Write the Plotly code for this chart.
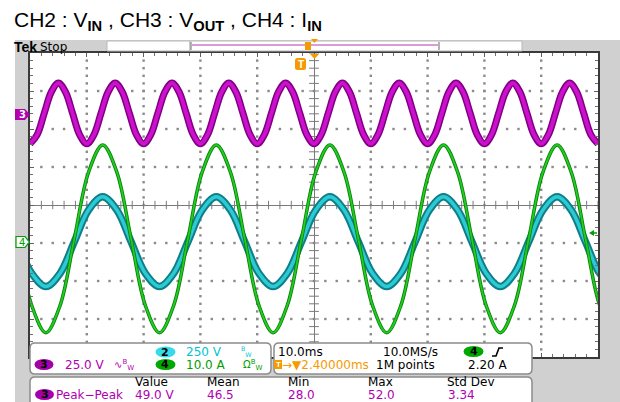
import plotly.graph_objects as go

W, H = 620, 402

# ---------------- data ----------------
# CH3 : V_OUT ripple, volts relative to the CH3 reference marker
t_ch3_ms = [-50.0, -48.75, -47.5, -46.25, -45.0, -43.75, -42.5, -41.25, -40.0, -38.75,
            -37.5, -36.25, -35.0, -33.75, -32.5, -31.25, -30.0, -28.75, -27.5, -26.25,
            -25.0, -23.75, -22.5, -21.25, -20.0, -18.75, -17.5, -16.25, -15.0, -13.75,
            -12.5, -11.25, -10.0, -8.75, -7.5, -6.25, -5.0, -3.75, -2.5, -1.25,
            0.0, 1.25, 2.5, 3.75, 5.0, 6.25, 7.5, 8.75, 10.0, 11.25,
            12.5, 13.75, 15.0, 16.25, 17.5, 18.75, 20.0, 21.25, 22.5, 23.75,
            25.0, 26.25, 27.5, 28.75, 30.0, 31.25, 32.5, 33.75, 35.0, 36.25,
            37.5, 38.75, 40.0, 41.25, 42.5, 43.75, 45.0, 46.25, 47.5, 48.75, 50.0]
v_out_V = [-19.0, -13.1, 1.0, 15.1, 21.0, 15.1, 1.0, -13.1,
           -19.0, -13.1, 1.0, 15.1, 21.0, 15.1, 1.0, -13.1,
           -19.0, -13.1, 1.0, 15.1, 21.0, 15.1, 1.0, -13.1,
           -19.0, -13.1, 1.0, 15.1, 21.0, 15.1, 1.0, -13.1,
           -19.0, -13.1, 1.0, 15.1, 21.0, 15.1, 1.0, -13.1,
           -19.0, -13.1, 1.0, 15.1, 21.0, 15.1, 1.0, -13.1,
           -19.0, -13.1, 1.0, 15.1, 21.0, 15.1, 1.0, -13.1,
           -19.0, -13.1, 1.0, 15.1, 21.0, 15.1, 1.0, -13.1,
           -19.0, -13.1, 1.0, 15.1, 21.0, 15.1, 1.0, -13.1,
           -19.0, -13.1, 1.0, 15.1, 21.0, 15.1, 1.0, -13.1,
           -19.0]

# CH2 : V_IN (volts) and CH4 : I_IN (amps)
t_in_ms = [-52.2, -49.7, -47.2, -44.7, -42.2, -39.7, -37.2, -34.7, -32.2, -29.7,
           -27.2, -24.7, -22.2, -19.7, -17.2, -14.7, -12.2, -9.7, -7.2, -4.7,
           -2.2, 0.3, 2.8, 5.3, 7.8, 10.3, 12.8, 15.3, 17.8, 20.3,
           22.8, 25.3, 27.8, 30.3, 32.8, 35.3, 37.8, 40.3, 42.8, 45.3,
           47.8, 50.3, 52.8]
v_in_V = [1, -207, -294, -207, 1, 209, 296, 209,
          1, -207, -294, -207, 1, 209, 296, 209,
          1, -207, -294, -207, 1, 209, 296, 209,
          1, -207, -294, -207, 1, 209, 296, 209,
          1, -207, -294, -207, 1, 209, 296, 209,
          1, -207, -294]
i_in_A = [0.8, -16.7, -23.9, -16.7, 0.8, 18.3, 25.5, 18.3,
          0.8, -16.7, -23.9, -16.7, 0.8, 18.3, 25.5, 18.3,
          0.8, -16.7, -23.9, -16.7, 0.8, 18.3, 25.5, 18.3,
          0.8, -16.7, -23.9, -16.7, 0.8, 18.3, 25.5, 18.3,
          0.8, -16.7, -23.9, -16.7, 0.8, 18.3, 25.5, 18.3,
          0.8, -16.7, -23.9]

# channel settings: (volts or amps per division, marker position in divisions from centre)
ch2_scale, ch2_pos = 250.0, -0.97
ch3_scale, ch3_pos = 25.0, 2.37
ch4_scale, ch4_pos = 10.0, -0.97
time_per_div = 10.0

# readout texts
title_html = "CH2 : V<sub><b>IN</b></sub> , CH3 : V<sub><b>OUT</b></sub> , CH4 : I<sub><b>IN</b></sub>"
ch2_readout = "250 V"
ch3_readout = "25.0 V"
ch4_readout = "10.0 A"
timebase = "10.0ms"
sample_rate = "10.0MS/s"
trig_delay = "→▼2.40000ms"
record_len = "1M points"
trig_level = "2.20 A"
meas_headers = ["Value", "Mean", "Min", "Max", "Std Dev"]
meas_name = "Peak−Peak"
meas_values = ["49.0 V", "46.5", "28.0", "52.0", "3.34"]

# ---------------- styling ----------------
SCOPE = "DejaVu Sans"
TITLE = "Liberation Sans, Arial"
PX0, PX1, PY0, PY1 = 30, 598, 53, 357   # plot area in pixels
MAG, CYA, GRN, ORG = "#b000b0", "#00c4d4", "#00a000", "#f59a00"


def P(x, y):
    return f"{x / W:.5f},{1 - y / H:.5f}"


def rrect(x0, y0, x1, y1, r):
    return (f"M {P(x0 + r, y0)} L {P(x1 - r, y0)} Q {P(x1, y0)} {P(x1, y0 + r)} "
            f"L {P(x1, y1 - r)} Q {P(x1, y1)} {P(x1 - r, y1)} L {P(x0 + r, y1)} "
            f"Q {P(x0, y1)} {P(x0, y1 - r)} L {P(x0, y0 + r)} Q {P(x0, y0)} {P(x0 + r, y0)} Z")


def yr(scale, pos):
    return [(-4 - pos) * scale, (4 - pos) * scale]


fig = go.Figure()

# graticule dots (every 1/5 division along each division line)
gx, gy = [], []
for k in range(-4, 5):
    if k == 0:
        continue
    for j in range(1, 40):
        gx.append(k * time_per_div)
        gy.append(-4 + 0.2 * j)
for k in range(-3, 4):
    if k == 0:
        continue
    for j in range(1, 50):
        gx.append(-5 * time_per_div + j * time_per_div / 5)
        gy.append(k)
fig.add_trace(go.Scatter(x=gx, y=gy, mode="markers",
                         marker=dict(symbol="square", size=2.4, color="#8a8a8a", line=dict(width=0)),
                         hoverinfo="skip", showlegend=False))

# centre-line tick marks
fig.add_trace(go.Scatter(x=[-50 + 2 * i for i in range(51)], y=[0] * 51, mode="markers",
                         marker=dict(symbol="line-ns", size=6, line=dict(width=1, color="#7a7a7a")),
                         hoverinfo="skip", showlegend=False))
fig.add_trace(go.Scatter(x=[0] * 41, y=[-4 + 0.2 * i for i in range(41)], mode="markers",
                         marker=dict(symbol="line-ew", size=7, line=dict(width=1, color="#7a7a7a")),
                         hoverinfo="skip", showlegend=False))

# CH2 cyan
fig.add_trace(go.Scatter(x=t_in_ms, y=v_in_V, yaxis="y2", mode="lines",
                         line=dict(color="#0e7f88", width=7.5, shape="spline", smoothing=1),
                         hoverinfo="skip", showlegend=False))
fig.add_trace(go.Scatter(x=t_in_ms, y=v_in_V, yaxis="y2", mode="lines",
                         line=dict(color="#2ccbd4", width=3.5, shape="spline", smoothing=1),
                         hoverinfo="skip", showlegend=False))
# CH3 magenta
fig.add_trace(go.Scatter(x=t_ch3_ms, y=v_out_V, yaxis="y3", mode="lines",
                         line=dict(color="#7e0082", width=7, shape="spline", smoothing=1),
                         hoverinfo="skip", showlegend=False))
fig.add_trace(go.Scatter(x=t_ch3_ms, y=v_out_V, yaxis="y3", mode="lines",
                         line=dict(color="#cc10cc", width=4, shape="spline", smoothing=1),
                         hoverinfo="skip", showlegend=False))
# CH4 green
fig.add_trace(go.Scatter(x=t_in_ms, y=i_in_A, yaxis="y4", mode="lines",
                         line=dict(color="#0a820a", width=3.5, shape="spline", smoothing=1),
                         hoverinfo="skip", showlegend=False))
fig.add_trace(go.Scatter(x=t_in_ms, y=i_in_A, yaxis="y4", mode="lines",
                         line=dict(color="#22cc22", width=1.8, shape="spline", smoothing=1),
                         hoverinfo="skip", showlegend=False))

dom_x = [PX0 / W, PX1 / W]
dom_y = [1 - PY1 / H, 1 - PY0 / H]

fig.update_layout(
    width=W, height=H, margin=dict(l=0, r=0, t=0, b=0),
    paper_bgcolor="white", plot_bgcolor="white", showlegend=False,
    xaxis=dict(domain=dom_x, range=[-5 * time_per_div, 5 * time_per_div], dtick=time_per_div, tick0=0,
               showgrid=False,
               zeroline=True, zerolinecolor="#7a7a7a", zerolinewidth=1,
               showline=True, linecolor="#3a3a3a", linewidth=2, mirror="ticks",
               ticks="inside", ticklen=4, tickcolor="#606060", showticklabels=False,
               minor=dict(dtick=time_per_div / 5, ticks="inside", ticklen=3, tickcolor="#707070", showgrid=False),
               fixedrange=True),
    yaxis=dict(domain=dom_y, range=[-4, 4], dtick=1, tick0=0,
               showgrid=False,
               zeroline=True, zerolinecolor="#7a7a7a", zerolinewidth=1,
               showline=True, linecolor="#3a3a3a", linewidth=2, mirror="ticks",
               ticks="inside", ticklen=4, tickcolor="#606060", showticklabels=False,
               minor=dict(dtick=0.2, ticks="inside", ticklen=3, tickcolor="#707070", showgrid=False),
               fixedrange=True),
    yaxis2=dict(overlaying="y", anchor="x", range=yr(ch2_scale, ch2_pos), visible=False),
    yaxis3=dict(overlaying="y", anchor="x", range=yr(ch3_scale, ch3_pos), visible=False),
    yaxis4=dict(overlaying="y", anchor="x", range=yr(ch4_scale, ch4_pos), visible=False),
)

shapes = []


def rect(x0, y0, x1, y1, fill, line=None, lw=0, layer="above"):
    shapes.append(dict(type="rect", xref="paper", yref="paper", x0=x0 / W, x1=x1 / W,
                       y0=1 - y1 / H, y1=1 - y0 / H, fillcolor=fill,
                       line=dict(color=line or fill, width=lw), layer=layer))


def path(d, fill=None, line=None, lw=1, layer="above"):
    s = dict(type="path", xref="paper", yref="paper", path=d, layer=layer,
             line=dict(color=line or "rgba(0,0,0,0)", width=lw if line else 0))
    if fill:
        s["fillcolor"] = fill
    shapes.append(s)


def ellipse(cx, cy, w, h, fill):
    shapes.append(dict(type="circle", xref="paper", yref="paper", x0=(cx - w / 2) / W, x1=(cx + w / 2) / W,
                       y0=1 - (cy + h / 2) / H, y1=1 - (cy - h / 2) / H, fillcolor=fill,
                       line=dict(width=0), layer="above"))


# scope background
rect(15, 40, W, H, "#d0d0d0", layer="below")
rect(PX0, PY0, PX1, PY1, "white", layer="below")
# top status bar
rect(107, 41, 190, 51, "white", "#b8b8b8", 1)
rect(190, 41, 522, 51, "white", "#b8b8b8", 1)
path(f"M {P(192, 45)} L {P(438, 45)}", line="#b040b0", lw=1.2)
path(f"M {P(191, 42)} L {P(191, 50)}", line="#999999", lw=1.5)
path(f"M {P(439, 42)} L {P(439, 50)}", line="#999999", lw=1.5)
rect(305, 42, 311, 50, ORG)
path(f"M {P(311, 39)} L {P(318, 39)} L {P(314.5, 43)} Z", fill=ORG)
# trigger position marker under the frame
path(f"M {P(310, 54)} L {P(319, 54)} L {P(314.5, 59)} Z", fill=ORG)
path(rrect(295, 58, 306, 70, 2.5), fill=ORG)
# channel markers on the left
path(f"M {P(15, 109)} L {P(25, 109)} L {P(30, 114.5)} L {P(25, 120)} L {P(15, 120)} Z", fill=MAG)
path(f"M {P(16, 236.5)} L {P(25, 236.5)} L {P(29.5, 242)} L {P(25, 247.5)} L {P(16, 247.5)} Z",
     fill="white", line=GRN, lw=1.2)
# trigger level arrow on the right
path(f"M {P(589, 233)} L {P(594, 230)} L {P(594, 236)} Z", fill=GRN)
path(f"M {P(593, 233)} L {P(597, 233)}", line=GRN, lw=1.5)
# readout boxes
path(rrect(30, 343, 271, 374, 5), fill="white", line="#8c8c8c", lw=1.5)
path(rrect(274, 343, 532, 374, 5), fill="white", line="#8c8c8c", lw=1.5)
path(rrect(30, 377, 532, 412, 5), fill="white", line="#8c8c8c", lw=1.5)
# pills
ellipse(165.5, 352, 20, 11, "#35dbe8")
ellipse(44, 364.5, 19, 11, "#a400a8")
ellipse(165.5, 364.5, 20, 11, "#00a800")
ellipse(473.5, 351.5, 20, 11, "#00a800")
ellipse(44.5, 394.5, 19, 11, "#a400a8")
# trigger slope symbol
path(f"M {P(492, 356)} L {P(496, 356)} L {P(499, 348)} L {P(503, 348)}", line="black", lw=1.6)
# orange T box in delay readout
rect(274, 360, 282, 369, ORG)

fig.update_layout(shapes=shapes)


def ann(x, y, s, color="black", size=12, xanchor="left", family=SCOPE):
    fig.add_annotation(x=x / W, y=1 - y / H, xref="paper", yref="paper", text=s, showarrow=False,
                       xanchor=xanchor, yanchor="middle", borderpad=0, borderwidth=0,
                       font=dict(family=family, size=size, color=color))


ann(14, 21, title_html, size=21, family=TITLE)
ann(14, 46.5, "<b>Tek</b>", size=14, family=TITLE)
ann(40, 46.5, "Stop", size=12)
ann(300.5, 64.5, "<b>T</b>", color="white", size=10, xanchor="center", family=TITLE)
ann(278, 364.5, "<b>T</b>", color="white", size=8, xanchor="center", family=TITLE)
ann(22, 114.5, "<b>3</b>", color="white", size=10, xanchor="center")
ann(22, 242, "4", color=GRN, size=10, xanchor="center")

ann(165.5, 352, "<b>2</b>", size=11, xanchor="center")
ann(44, 364.5, "<b>3</b>", size=11, xanchor="center")
ann(165.5, 364.5, "<b>4</b>", size=11, xanchor="center")
ann(473.5, 351.5, "<b>4</b>", size=11, xanchor="center")
ann(44.5, 394.5, "<b>3</b>", size=11, xanchor="center")

ann(186, 351.5, ch2_readout, CYA, 12)
ann(241, 351.5, "<sup>B</sup><sub>W</sub>", CYA, 9)
ann(65, 365, ch3_readout, MAG, 12)
ann(114, 365, "∿<sup>B</sup><sub>W</sub>", MAG, 10)
ann(186, 365, ch4_readout, GRN, 12)
ann(243, 365, "Ω<sup>B</sup><sub>W</sub>", GRN, 10)

ann(278, 351.5, timebase, "black", 12)
ann(383, 351.5, sample_rate, "black", 12)
ann(282, 365, trig_delay, ORG, 12)
ann(376, 365, record_len, "black", 12)
ann(468, 365, trig_level, "black", 12)

for hx, h in zip([135, 207, 288, 368, 447], meas_headers):
    ann(hx, 382, h, "black", 12)
ann(56, 395, meas_name, MAG, 12)
for vx, v in zip([135, 207, 288, 368, 448], meas_values):
    ann(vx, 395, v, MAG, 12)

fig.write_html("out.html")
